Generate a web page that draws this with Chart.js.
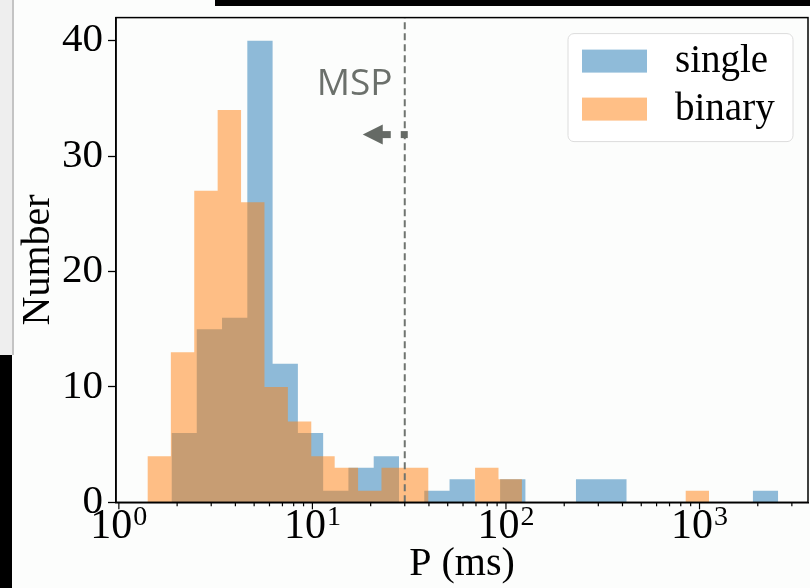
<!DOCTYPE html>
<html>
<head>
<meta charset="utf-8">
<script src="https://cdn.jsdelivr.net/npm/chart.js@4.4.1/dist/chart.umd.min.js"></script>
<style>
  html, body { margin: 0; padding: 0; background: #fcfdfc; }
  #wrap { position: relative; width: 810px; height: 588px; overflow: hidden; }
  #chart { position: absolute; left: 0; top: 0; }
  .deco { position: absolute; }
</style>
</head>
<body>
<div id="wrap">
  <canvas id="chart" width="810" height="588"></canvas>
  <div class="deco" style="left:215px;top:0;width:595px;height:6px;background:#000"></div>
  <div class="deco" style="left:0;top:0;width:12px;height:355px;background:#eeeeee"></div>
  <div class="deco" style="left:0;top:355px;width:12px;height:233px;background:#000"></div>
  <div class="deco" style="left:12px;top:0;width:2px;height:355px;background:#c4c4c4"></div>
</div>
<script>
// histogram counts per log-spaced bin (24 bins each)
const singleCounts = [6, 15, 16, 40, 12, 6, 1, 3, 4, 0, 1, 2, 0, 2, 0, 0, 2, 2, 0, 0, 0, 0, 0, 1];
const binaryCounts = [4, 13, 27, 34, 26, 10, 7, 4, 3, 1, 3, 3, 0, 0, 3, 2, 0, 0, 0, 0, 0, 0, 0, 1];
// bin range (ms) for each sample
const singleRange = [1.87, 2550];
const binaryRange = [1.405, 1121];
const seriesLabels = ['single', 'binary'];
const mspLimit = 30; // ms
const xDecades = [1, 10, 100, 1000];
const xExponents = ['0', '1', '2', '3'];
const yTicks = [0, 10, 20, 30, 40];
const xMin = 0.9665, xMax = 3635, yMax = 42;

const BLUE = 'rgba(31, 119, 180, 0.5)';
const ORANGE = 'rgba(255, 127, 14, 0.5)';
const SERIF = '"Liberation Serif", "DejaVu Serif", serif';

function stepData(counts, range) {
    const lo = Math.log10(range[0]), hi = Math.log10(range[1]);
    const n = counts.length;
    const edge = k => Math.pow(10, lo + (hi - lo) * k / n);
    const pts = [{ x: edge(0), y: 0 }];
    counts.forEach((c, k) => pts.push({ x: edge(k), y: c }));
    pts.push({ x: edge(n), y: 0 });
    return pts;
}

// spines, log ticks, tick labels, MSP note and legend
const extras = {
    id: 'extras',
    afterDraw(chart) {
        const ctx = chart.ctx;
        const a = chart.chartArea;
        const xs = chart.scales.x;
        ctx.save();

        ctx.strokeStyle = '#000';
        ctx.lineWidth = 1.5;
        ctx.strokeRect(a.left, a.top, a.right - a.left, a.bottom - a.top);

        // x tick marks (major + minor)
        ctx.lineWidth = 1.2;
        xDecades.concat([10000]).forEach(d => {
            for (let m = 1; m <= 9; m++) {
                const v = d * m;
                if (v < xMin || v > xMax) continue;
                const px = xs.getPixelForValue(v);
                ctx.beginPath();
                ctx.moveTo(px, a.bottom);
                ctx.lineTo(px, a.bottom + (m === 1 ? 7 : 4));
                ctx.stroke();
            }
        });

        // x tick labels 10^n
        ctx.fillStyle = '#000';
        ctx.textBaseline = 'alphabetic';
        ctx.textAlign = 'left';
        xDecades.forEach((v, i) => {
            const px = xs.getPixelForValue(v);
            ctx.font = '42px ' + SERIF;
            const bw = ctx.measureText('10').width;
            ctx.font = '28px ' + SERIF;
            const ew = ctx.measureText(xExponents[i]).width;
            const x0 = px - (bw + ew + 1) / 2;
            ctx.font = '42px ' + SERIF;
            ctx.fillText('10', x0, a.bottom + 36);
            ctx.font = '28px ' + SERIF;
            ctx.fillText(xExponents[i], x0 + bw + 1, a.bottom + 23);
        });

        // MSP note with arrow
        const mx = xs.getPixelForValue(mspLimit);
        ctx.fillStyle = '#6b706b';
        ctx.font = '37px "Open Sans", "Noto Sans", sans-serif';
        ctx.fillText('MSP', mx - 88, a.top + 77);
        ctx.fillStyle = '#656a65';
        const ay = a.top + 117;
        ctx.beginPath();
        ctx.moveTo(mx - 42, ay);
        ctx.lineTo(mx - 22, ay - 10);
        ctx.lineTo(mx - 22, ay + 10);
        ctx.closePath();
        ctx.fill();
        ctx.fillRect(mx - 23, ay - 3.5, 9, 7);
        ctx.fillRect(mx - 4, ay - 3.5, 7, 7);

        // legend
        const lw = 225, lh = 108;
        const lx = a.right - 240, ly = a.top + 16;
        ctx.fillStyle = 'rgba(255,255,255,0.85)';
        ctx.strokeStyle = '#dcdcdc';
        ctx.lineWidth = 1;
        ctx.beginPath();
        ctx.roundRect(lx, ly, lw, lh, 6);
        ctx.fill();
        ctx.stroke();
        const colors = [BLUE, ORANGE];
        seriesLabels.forEach((lab, i) => {
            const ry = ly + 16 + i * 48;
            ctx.fillStyle = colors[i];
            ctx.fillRect(lx + 14, ry, 65, 23);
            ctx.fillStyle = '#000';
            ctx.font = '39px ' + SERIF;
            ctx.fillText(lab, lx + 107, ry + 22);
        });
        ctx.restore();
    }
};

new Chart(document.getElementById('chart'), {
    type: 'line',
    data: {
        datasets: [
            {
                label: seriesLabels[0],
                data: stepData(singleCounts, singleRange),
                stepped: 'before',
                fill: 'origin',
                backgroundColor: BLUE,
                borderColor: 'transparent',
                borderWidth: 0,
                pointRadius: 0,
                order: 3
            },
            {
                label: seriesLabels[1],
                data: stepData(binaryCounts, binaryRange),
                stepped: 'before',
                fill: 'origin',
                backgroundColor: ORANGE,
                borderColor: 'transparent',
                borderWidth: 0,
                pointRadius: 0,
                order: 2
            },
            {
                label: 'MSP',
                data: [{ x: mspLimit, y: 0 }, { x: mspLimit, y: yMax }],
                borderColor: '#6f746f',
                borderWidth: 2,
                borderDash: [7, 4],
                pointRadius: 0,
                fill: false,
                order: 1
            }
        ]
    },
    options: {
        responsive: false,
        animation: false,
        devicePixelRatio: 1,
        layout: { padding: { top: 17.6, right: 2, left: 0, bottom: 0 } },
        plugins: { legend: { display: false }, tooltip: { enabled: false } },
        scales: {
            x: {
                type: 'logarithmic',
                min: xMin,
                max: xMax,
                grid: { display: false },
                border: { display: true, color: '#000', width: 1.5 },
                ticks: { display: false },
                title: {
                    display: true,
                    text: 'P (ms)',
                    color: '#000',
                    font: { family: SERIF, size: 40 },
                    padding: { top: 0, bottom: 0 }
                },
                afterFit: s => { s.height = 85.7; s.paddingLeft = 0; s.paddingRight = 0; }
            },
            y: {
                min: 0,
                max: yMax,
                afterBuildTicks: s => { s.ticks = yTicks.map(v => ({ value: v })); },
                grid: { drawOnChartArea: false, tickLength: 8, tickColor: '#000', tickWidth: 1.3 },
                border: { display: true, color: '#000', width: 1.5 },
                ticks: { color: '#000', font: { family: SERIF, size: 41 }, padding: 5 },
                title: {
                    display: true,
                    text: 'Number',
                    color: '#000',
                    font: { family: SERIF, size: 40 },
                    padding: { top: 14, bottom: 0 }
                },
                afterFit: s => { s.width = 116; s.paddingTop = 0; s.paddingBottom = 0; }
            }
        }
    },
    plugins: [extras]
});
</script>
</body>
</html>
